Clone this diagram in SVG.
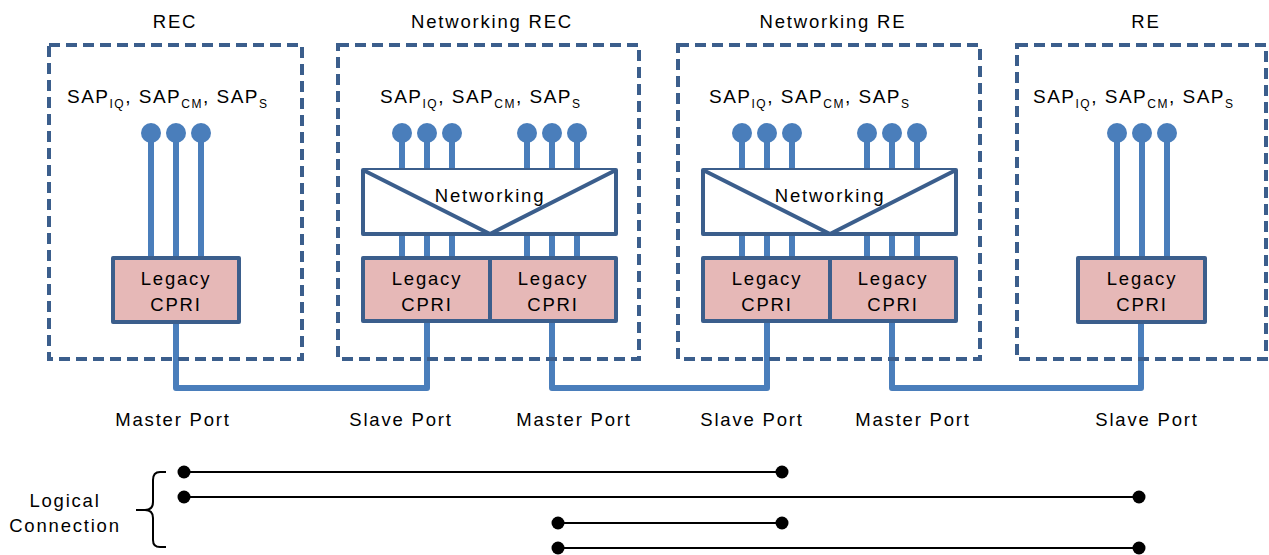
<svg xmlns="http://www.w3.org/2000/svg" width="1269" height="555" viewBox="0 0 1269 555">
<style>
text{font-family:"Liberation Sans",Arial,sans-serif;fill:#000;letter-spacing:1.8px}
.t{font-size:18.5px;text-anchor:middle}
.sap{font-size:19px;letter-spacing:1.5px}
.sub{font-size:12px}
.dash{fill:none;stroke:#3B5E8C;stroke-width:4;stroke-dasharray:11 6}
.leg{fill:#E6B8B7;stroke:#3B5E8C;stroke-width:4;stroke-linejoin:round}
.net{fill:#fff;stroke:#3B5E8C;stroke-width:4;stroke-linejoin:round}
.pin{stroke:#4A7EBB;stroke-width:6;fill:none}
.dot{fill:#4A7EBB}
.conn{fill:none;stroke:#4A7EBB;stroke-width:6;stroke-linejoin:round}
.lc{stroke:#000;stroke-width:2;fill:none}
.ld{fill:#000}
</style>
<rect width="1269" height="555" fill="#fff"/>

<g id="conns">
<path class="conn" d="M176,322 V388 H427 V321"/>
<path class="conn" d="M552,321 V388 H767 V321"/>
<path class="conn" d="M892,321 V388 H1141 V322"/>
</g>

<g id="rec">
<rect class="dash" x="49" y="45" width="253" height="314"/>
<text class="t" x="175" y="28">REC</text>
<text class="sap" x="67" y="103">SAP<tspan class="sub" dy="5">IQ</tspan><tspan dy="-5">, SAP</tspan><tspan class="sub" dy="5">CM</tspan><tspan dy="-5">, SAP</tspan><tspan class="sub" dy="5">S</tspan></text>
<path class="pin" d="M151,133 V258 M176,133 V258 M201,133 V258"/>
<circle class="dot" cx="151" cy="133" r="10"/><circle class="dot" cx="176" cy="133" r="10"/><circle class="dot" cx="201" cy="133" r="10"/>
<rect class="leg" x="113" y="258" width="126" height="64"/>
<text class="t" x="176" y="285">Legacy</text>
<text class="t" x="176" y="311">CPRI</text>
<text class="t" x="173" y="426">Master Port</text>
</g>

<g id="nrec">
<rect class="dash" x="338" y="45" width="301" height="314"/>
<text class="t" x="492" y="28">Networking REC</text>
<text class="sap" x="380" y="103">SAP<tspan class="sub" dy="5">IQ</tspan><tspan dy="-5">, SAP</tspan><tspan class="sub" dy="5">CM</tspan><tspan dy="-5">, SAP</tspan><tspan class="sub" dy="5">S</tspan></text>
<path class="pin" d="M402,133 V258 M427,133 V258 M452,133 V258 M527,133 V258 M552,133 V258 M577,133 V258"/>
<circle class="dot" cx="402" cy="133" r="10"/><circle class="dot" cx="427" cy="133" r="10"/><circle class="dot" cx="452" cy="133" r="10"/>
<circle class="dot" cx="527" cy="133" r="10"/><circle class="dot" cx="552" cy="133" r="10"/><circle class="dot" cx="577" cy="133" r="10"/>
<rect class="net" x="363" y="170" width="253" height="64"/>
<path class="net" d="M363,170 L490,234 L616,170" fill="none"/>
<text class="t" x="490" y="202">Networking</text>
<rect class="leg" x="363" y="258" width="127" height="63"/>
<rect class="leg" x="490" y="258" width="126" height="63"/>
<text class="t" x="427" y="285">Legacy</text>
<text class="t" x="427" y="311">CPRI</text>
<text class="t" x="553" y="285">Legacy</text>
<text class="t" x="553" y="311">CPRI</text>
<text class="t" x="401" y="426">Slave Port</text>
<text class="t" x="574" y="426">Master Port</text>
</g>

<g id="nre">
<rect class="dash" x="678" y="45" width="302" height="314"/>
<text class="t" x="833" y="28">Networking RE</text>
<text class="sap" x="709" y="103">SAP<tspan class="sub" dy="5">IQ</tspan><tspan dy="-5">, SAP</tspan><tspan class="sub" dy="5">CM</tspan><tspan dy="-5">, SAP</tspan><tspan class="sub" dy="5">S</tspan></text>
<path class="pin" d="M742,133 V258 M767,133 V258 M792,133 V258 M867,133 V258 M892,133 V258 M917,133 V258"/>
<circle class="dot" cx="742" cy="133" r="10"/><circle class="dot" cx="767" cy="133" r="10"/><circle class="dot" cx="792" cy="133" r="10"/>
<circle class="dot" cx="867" cy="133" r="10"/><circle class="dot" cx="892" cy="133" r="10"/><circle class="dot" cx="917" cy="133" r="10"/>
<rect class="net" x="703" y="170" width="253" height="64"/>
<path class="net" d="M703,170 L830,234 L956,170" fill="none"/>
<text class="t" x="830" y="202">Networking</text>
<rect class="leg" x="703" y="258" width="127" height="63"/>
<rect class="leg" x="830" y="258" width="126" height="63"/>
<text class="t" x="767" y="285">Legacy</text>
<text class="t" x="767" y="311">CPRI</text>
<text class="t" x="893" y="285">Legacy</text>
<text class="t" x="893" y="311">CPRI</text>
<text class="t" x="752" y="426">Slave Port</text>
<text class="t" x="913" y="426">Master Port</text>
</g>

<g id="re">
<rect class="dash" x="1017" y="45" width="249" height="314"/>
<text class="t" x="1146" y="28">RE</text>
<text class="sap" x="1033" y="103">SAP<tspan class="sub" dy="5">IQ</tspan><tspan dy="-5">, SAP</tspan><tspan class="sub" dy="5">CM</tspan><tspan dy="-5">, SAP</tspan><tspan class="sub" dy="5">S</tspan></text>
<path class="pin" d="M1117,133 V258 M1142,133 V258 M1167,133 V258"/>
<circle class="dot" cx="1117" cy="133" r="10"/><circle class="dot" cx="1142" cy="133" r="10"/><circle class="dot" cx="1167" cy="133" r="10"/>
<rect class="leg" x="1078" y="258" width="127" height="64"/>
<text class="t" x="1142" y="285">Legacy</text>
<text class="t" x="1142" y="311">CPRI</text>
<text class="t" x="1147" y="426">Slave Port</text>
</g>

<g id="logical">
<text class="t" x="65" y="507">Logical</text>
<text class="t" x="65" y="532">Connection</text>
<path class="lc" d="M166,472 H160 Q153,472 153,480 V502 Q153,510 145,510 H136 H145 Q153,510 153,518 V540 Q153,547 160,547 H166" stroke-width="1.8"/>
<path class="lc" d="M184,472 H782 M184,497 H1139 M558,523 H782 M558,548 H1139"/>
<circle class="ld" cx="184" cy="472" r="6.5"/><circle class="ld" cx="782" cy="472" r="6.5"/>
<circle class="ld" cx="184" cy="497" r="6.5"/><circle class="ld" cx="1139" cy="497" r="6.5"/>
<circle class="ld" cx="558" cy="523" r="6.5"/><circle class="ld" cx="782" cy="523" r="6.5"/>
<circle class="ld" cx="558" cy="548" r="6.5"/><circle class="ld" cx="1139" cy="548" r="6.5"/>
</g>
</svg>
